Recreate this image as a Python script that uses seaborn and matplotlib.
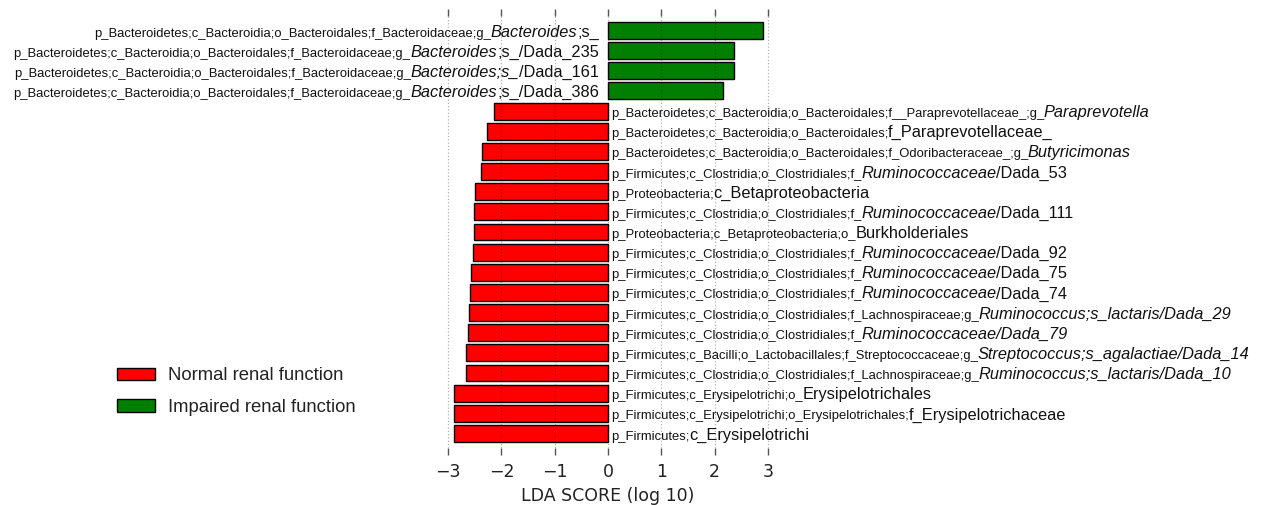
import seaborn as sns
import matplotlib.pyplot as plt
import pandas as pd

# taxa: small prefix | larger tail, *...* = italic
taxa = [
    "p_Bacteroidetes;c_Bacteroidia;o_Bacteroidales;f_Bacteroidaceae;g_|*Bacteroides*;s_",
    "p_Bacteroidetes;c_Bacteroidia;o_Bacteroidales;f_Bacteroidaceae;g_|*Bacteroides*;s_/Dada_235",
    "p_Bacteroidetes;c_Bacteroidia;o_Bacteroidales;f_Bacteroidaceae;g_|*Bacteroides;s_*/Dada_161",
    "p_Bacteroidetes;c_Bacteroidia;o_Bacteroidales;f_Bacteroidaceae;g_|*Bacteroides*;s_/Dada_386",
    "p_Bacteroidetes;c_Bacteroidia;o_Bacteroidales;f__Paraprevotellaceae_;g_|*Paraprevotella*",
    "p_Bacteroidetes;c_Bacteroidia;o_Bacteroidales;|f_Paraprevotellaceae_",
    "p_Bacteroidetes;c_Bacteroidia;o_Bacteroidales;f_Odoribacteraceae_;g_|*Butyricimonas*",
    "p_Firmicutes;c_Clostridia;o_Clostridiales;f_|*Ruminococcaceae*/Dada_53",
    "p_Proteobacteria;|c_Betaproteobacteria",
    "p_Firmicutes;c_Clostridia;o_Clostridiales;f_|*Ruminococcaceae*/Dada_111",
    "p_Proteobacteria;c_Betaproteobacteria;o_|Burkholderiales",
    "p_Firmicutes;c_Clostridia;o_Clostridiales;f_|*Ruminococcaceae*/Dada_92",
    "p_Firmicutes;c_Clostridia;o_Clostridiales;f_|*Ruminococcaceae*/Dada_75",
    "p_Firmicutes;c_Clostridia;o_Clostridiales;f_|*Ruminococcaceae*/Dada_74",
    "p_Firmicutes;c_Clostridia;o_Clostridiales;f_Lachnospiraceae;g_|*Ruminococcus;s_lactaris/Dada_29*",
    "p_Firmicutes;c_Clostridia;o_Clostridiales;f_|*Ruminococcaceae/Dada_79*",
    "p_Firmicutes;c_Bacilli;o_Lactobacillales;f_Streptococcaceae;g_|*Streptococcus;s_agalactiae/Dada_14*",
    "p_Firmicutes;c_Clostridia;o_Clostridiales;f_Lachnospiraceae;g_|*Ruminococcus;s_lactaris/Dada_10*",
    "p_Firmicutes;c_Erysipelotrichi;o_|Erysipelotrichales",
    "p_Firmicutes;c_Erysipelotrichi;o_Erysipelotrichales;|f_Erysipelotrichaceae",
    "p_Firmicutes;|c_Erysipelotrichi",
]
lda = [2.90, 2.37, 2.36, 2.16,
       -2.14, -2.27, -2.37, -2.39, -2.49, -2.51, -2.51, -2.53, -2.57,
       -2.59, -2.60, -2.63, -2.67, -2.67, -2.89, -2.89, -2.89]
groups = ["Normal renal function", "Impaired renal function"]
colors = ["#ff0000", "#007f00"]

df = pd.DataFrame({"taxon": taxa, "lda": lda})
df["group"] = [groups[1] if v > 0 else groups[0] for v in lda]

sns.set_style("white")
lab_font = "Liberation Sans"

fig = plt.figure(figsize=(12.66, 5.05), dpi=100)
ax = fig.add_axes([0.3518, 0.1129, 0.2570, 0.8554])

sns.barplot(data=df, x="lda", y="taxon", hue="group", hue_order=groups,
            palette=dict(zip(groups, colors)), saturation=1, dodge=False,
            orient="h", width=0.84, edgecolor="black", linewidth=1.0, ax=ax)

ax.set_xlim(-3.05, 3.05)
ax.set_ylim(20.72, -0.72)
ax.set_xticks(range(-3, 4))
ax.set_yticks([])
ax.set_ylabel("")
ax.set_xlabel("LDA SCORE (log 10)", fontsize=12.5, labelpad=4, color="#222222")
for s in ax.spines.values():
    s.set_visible(False)
ax.tick_params(axis="x", top=True, bottom=True, direction="out", length=5,
               width=1, color="#555555", labelsize=12.5, pad=6, labelcolor="#222222")
ax.grid(axis="x", linestyle=":", color="black", alpha=0.3, linewidth=0.9)
ax.set_axisbelow(False)


def draw_label(y, label, left_side):
    small, big = label.split("|")
    parts = [(small, 9.4, "normal")]
    for i, chunk in enumerate(big.split("*")):
        if chunk:
            parts.append((chunk, 11.8, "italic" if i % 2 else "normal"))
    yb = y + 0.3
    kw = dict(va="baseline", annotation_clip=False, family=lab_font, color="#111111")
    prev = None
    if left_side:
        for txt, size, style in reversed(parts):
            if prev is None:
                prev = ax.annotate(txt, xy=(-0.17, yb), xycoords="data",
                                   ha="right", fontsize=size, style=style, **kw)
            else:
                prev = ax.annotate(txt, xy=(0, yb), xycoords=(prev, "data"),
                                   ha="right", fontsize=size, style=style, **kw)
    else:
        for txt, size, style in parts:
            if prev is None:
                prev = ax.annotate(txt, xy=(0.05, yb), xycoords="data",
                                   ha="left", fontsize=size, style=style, **kw)
            else:
                prev = ax.annotate(txt, xy=(1, yb), xycoords=(prev, "data"),
                                   ha="left", fontsize=size, style=style, **kw)


for i, (t, v) in enumerate(zip(taxa, lda)):
    draw_label(i, t, v > 0)

sns.move_legend(ax, loc="upper left", bbox_to_anchor=(108 / 1266, 1 - 358 / 505),
                bbox_transform=fig.transFigure, frameon=False, title=None,
                prop={"family": lab_font, "size": 13.3}, borderpad=0,
                handlelength=2.04, handleheight=0.65, handletextpad=0.7,
                labelspacing=0.8, labelcolor="#222222")

fig.savefig("out.png", dpi=100)
